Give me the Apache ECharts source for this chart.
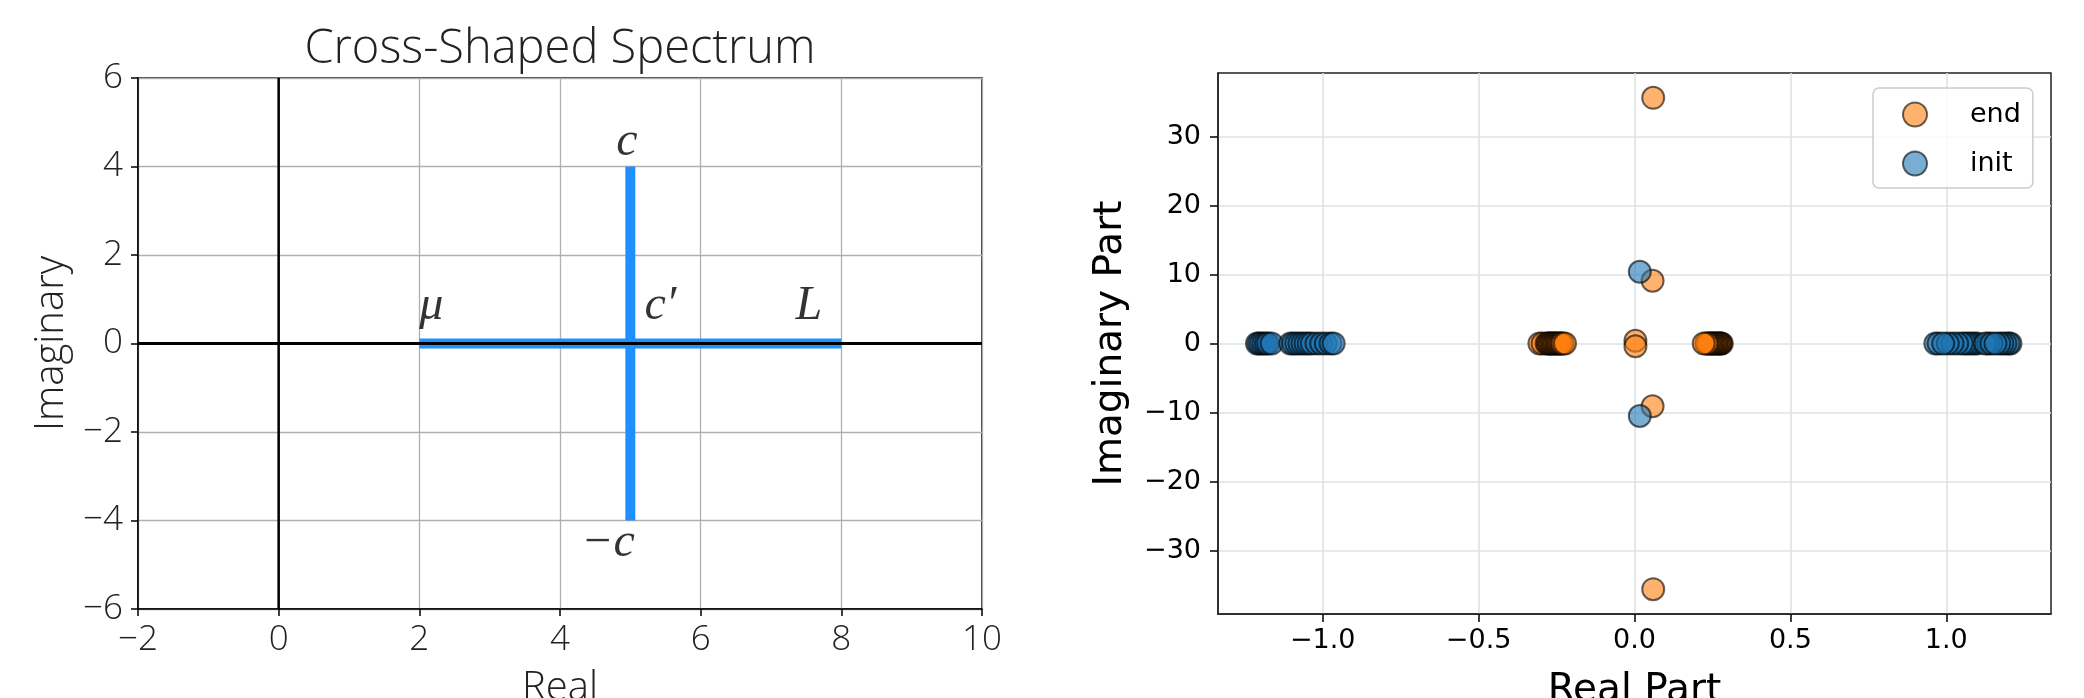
<!DOCTYPE html>
<html><head><meta charset="utf-8">
<script src="https://cdn.jsdelivr.net/npm/echarts@6/dist/echarts.min.js"></script>
<style>html,body{margin:0;padding:0;background:#fff;overflow:hidden}#c{width:2084px;height:698px}</style>
</head><body><div id="c"></div>
<script>
// ---------- Left panel: cross-shaped spectrum ----------
const crossTitle = 'Cross-Shaped Spectrum';
const leftXName = 'Real';
const leftYName = 'Imaginary';
const horizSegment = [[2, 0], [8, 0]];
const vertSegment = [[5, -4], [5, 4]];
const zeroVLine = [[0, -6], [0, 6]];
const zeroHLine = [[-2, 0], [10, 0]];
const mathLabels = [
  [2.0, 0.5, 'μ'],
  [5.2, 0.5, 'c′'],
  [7.35, 0.5, 'L'],
  [4.8, 4.2, 'c'],
  [4.3, -4.85, '−c']
];

// ---------- Right panel: eigenvalues ----------
const rightXName = 'Real Part';
const rightYName = 'Imaginary Part';
const rightXTicks = [-1, -0.5, 0, 0.5, 1];
const rightYTicks = [-30, -20, -10, 0, 10, 20, 30];
const endPoints = [
  [0.06, 35.6], [0.06, -35.6], [0.058, 9.1], [0.058, -9.1],
  [0.003, 0.4], [0.003, -0.4],
  [-0.305, 0], [-0.295, 0], [-0.282, 0], [-0.278, 0], [-0.274, 0], [-0.27, 0], [-0.266, 0],
  [-0.262, 0], [-0.258, 0], [-0.254, 0], [-0.25, 0], [-0.246, 0], [-0.242, 0], [-0.238, 0],
  [-0.234, 0], [-0.23, 0], [-0.223, 0],
  [0.28, 0], [0.277, 0], [0.274, 0], [0.27, 0], [0.266, 0], [0.262, 0], [0.258, 0],
  [0.254, 0], [0.25, 0], [0.246, 0], [0.242, 0], [0.238, 0], [0.234, 0], [0.23, 0], [0.222, 0]
];
const initPoints = [
  [0.017, 10.4], [0.017, -10.5],
  [-1.211, 0], [-1.205, 0], [-1.198, 0], [-1.19, 0], [-1.182, 0], [-1.175, 0], [-1.164, 0],
  [-1.104, 0], [-1.095, 0], [-1.085, 0], [-1.075, 0], [-1.065, 0], [-1.055, 0],
  [-1.045, 0], [-1.035, 0], [-1.02, 0], [-1.005, 0], [-0.99, 0], [-0.975, 0], [-0.965, 0],
  [0.965, 0], [0.975, 0], [1.1, 0], [1.09, 0], [1.08, 0], [1.07, 0], [1.06, 0],
  [1.05, 0], [1.035, 0], [1.02, 0], [1.005, 0], [0.99, 0],
  [1.206, 0], [1.2, 0], [1.19, 0], [1.18, 0], [1.17, 0], [1.135, 0], [1.125, 0], [1.145, 0], [1.158, 0]
];

const MINUS = '\u2212';
const fmtInt = v => (v < 0 ? MINUS : '') + Math.abs(v);
const fmt1 = v => (v < 0 ? MINUS : '') + Math.abs(v).toFixed(1);

const lightFont = {fontFamily: 'Open Sans', fontWeight: 300, color: '#222'};
const tickStyle = {show: true, inside: false, length: 7, lineStyle: {color: '#000', width: 1.5}};

const chart = echarts.init(document.getElementById('c'), null, {renderer: 'canvas'});
const option = {
  animation: false,
  backgroundColor: '#fff',
  graphic: [{
    type: 'text', x: 560, y: 50,
    style: {text: crossTitle, fontSize: 47, fill: '#222', align: 'center', verticalAlign: 'middle',
            fontFamily: 'Open Sans', fontWeight: 300}
  }],
  grid: [
    {left: 138, right: 1102, top: 78, bottom: 89, show: true, borderColor: '#000', borderWidth: 1.5,
     outerBoundsMode: 'none', containLabel: false},
    {left: 1218, right: 33, top: 73, bottom: 84, show: true, borderColor: '#222', borderWidth: 1.5,
     outerBoundsMode: 'none', containLabel: false}
  ],
  legend: {
    data: ['end', 'init'], orient: 'vertical', left: 1873, top: 88,
    padding: [13, 12, 11, 29], itemWidth: 24, itemHeight: 24, itemGap: 22, icon: 'circle',
    backgroundColor: 'rgba(255,255,255,0.8)', borderColor: '#ccc', borderWidth: 1.5, borderRadius: 6,
    textStyle: {fontFamily: 'DejaVu Sans', fontSize: 27, color: '#000', padding: [0, 0, 0, 38]}
  },
  xAxis: [
    {
      type: 'value', gridIndex: 0, min: -2, max: 10, interval: 2,
      axisLine: {show: true, onZero: false, lineStyle: {color: '#000', width: 1.5}},
      axisTick: tickStyle,
      axisLabel: Object.assign({fontSize: 35, margin: 14, formatter: fmtInt}, lightFont),
      splitLine: {show: true, lineStyle: {color: '#b0b0b0', width: 1.3}},
      name: leftXName, nameLocation: 'middle', nameGap: 60,
      nameTextStyle: Object.assign({fontSize: 40}, lightFont)
    },
    {
      type: 'value', gridIndex: 1, min: -1.336, max: 1.336,
      axisLine: {show: true, onZero: false, lineStyle: {color: '#222', width: 1.5}},
      axisTick: Object.assign({}, tickStyle, {length: 8, customValues: rightXTicks}),
      axisLabel: {fontFamily: 'DejaVu Sans', fontSize: 27, color: '#000', margin: 13, formatter: fmt1, customValues: rightXTicks},
      splitLine: {show: true, lineStyle: {color: '#dde3e4', width: 1.6}},
      name: rightXName, nameLocation: 'middle', nameGap: 57,
      nameTextStyle: {fontFamily: 'DejaVu Sans', fontSize: 39, color: '#000'}
    }
  ],
  yAxis: [
    {
      type: 'value', gridIndex: 0, min: -6, max: 6, interval: 2,
      axisLine: {show: true, onZero: false, lineStyle: {color: '#000', width: 1.5}},
      axisTick: tickStyle,
      axisLabel: Object.assign({fontSize: 35, margin: 15, formatter: fmtInt}, lightFont),
      splitLine: {show: true, lineStyle: {color: '#b0b0b0', width: 1.3}},
      name: leftYName, nameLocation: 'middle', nameGap: 66, nameRotate: 90,
      nameTextStyle: Object.assign({fontSize: 40}, lightFont)
    },
    {
      type: 'value', gridIndex: 1, min: -39.2, max: 39.2,
      axisLine: {show: true, onZero: false, lineStyle: {color: '#222', width: 1.5}},
      axisTick: Object.assign({}, tickStyle, {length: 8, customValues: rightYTicks}),
      axisLabel: {fontFamily: 'DejaVu Sans', fontSize: 27, color: '#000', margin: 17, formatter: fmtInt, customValues: rightYTicks},
      splitLine: {show: true, lineStyle: {color: '#dde3e4', width: 1.6}},
      name: rightYName, nameLocation: 'middle', nameGap: 88, nameRotate: 90,
      nameTextStyle: {fontFamily: 'DejaVu Sans', fontSize: 39, color: '#000'}
    }
  ],
  series: [
    {type: 'line', xAxisIndex: 0, yAxisIndex: 0, data: horizSegment, symbol: 'none', silent: true,
     lineStyle: {color: '#1e90ff', width: 10, cap: 'butt'}, z: 2},
    {type: 'line', xAxisIndex: 0, yAxisIndex: 0, data: vertSegment, symbol: 'none', silent: true,
     lineStyle: {color: '#1e90ff', width: 10, cap: 'butt'}, z: 2},
    {type: 'line', xAxisIndex: 0, yAxisIndex: 0, data: zeroVLine, symbol: 'none', silent: true,
     lineStyle: {color: '#000', width: 2.5}, z: 3},
    {type: 'line', xAxisIndex: 0, yAxisIndex: 0, data: zeroHLine, symbol: 'none', silent: true,
     lineStyle: {color: '#000', width: 2.8}, z: 3},
    {type: 'scatter', xAxisIndex: 0, yAxisIndex: 0, silent: true, symbolSize: 1,
     itemStyle: {color: 'rgba(0,0,0,0)'},
     data: mathLabels.map(d => ({value: [d[0], d[1]], label: {formatter: d[2]}})),
     label: {show: true, position: 'inside', align: 'left', verticalAlign: 'bottom', offset: [0, 9],
             fontFamily: 'Liberation Serif', fontStyle: 'italic', fontSize: 48, color: '#000'}, z: 4},
    {type: 'scatter', name: 'end', xAxisIndex: 1, yAxisIndex: 1, data: endPoints, symbolSize: 22,
     itemStyle: {color: '#ff7f0e', opacity: 0.6, borderColor: '#000', borderWidth: 2}, z: 3,
     emphasis: {disabled: true}},
    {type: 'scatter', name: 'init', xAxisIndex: 1, yAxisIndex: 1, data: initPoints, symbolSize: 22,
     itemStyle: {color: '#1f77b4', opacity: 0.6, borderColor: '#000', borderWidth: 2}, z: 3,
     emphasis: {disabled: true}}
  ]
};
chart.setOption(option);
</script></body></html>
